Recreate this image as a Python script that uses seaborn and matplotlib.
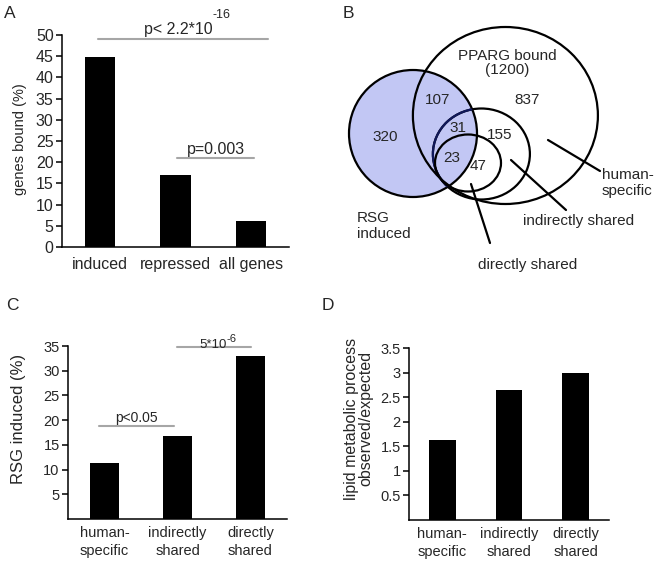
import matplotlib
matplotlib.use("Agg")
import matplotlib.pyplot as plt
import seaborn as sns
import numpy as np
from matplotlib.patches import Ellipse

sns.set_theme(style="white")
plt.rcParams['font.family'] = ['Liberation Sans', 'DejaVu Sans']

# ---- data ----
a_cats = ["induced", "repressed", "all genes"]
a_vals = [44.8, 17.0, 6.2]
a_ticks = [0, 5, 10, 15, 20, 25, 30, 35, 40, 45, 50]

c_cats = ["human-\nspecific", "indirectly\nshared", "directly\nshared"]
c_vals = [11.4, 16.7, 32.9]
c_ticks = [5, 10, 15, 20, 25, 30, 35]

d_cats = ["human-\nspecific", "indirectly\nshared", "directly\nshared"]
d_vals = [1.62, 2.65, 3.0]
d_ticks = [0.5, 1, 1.5, 2, 2.5, 3, 3.5]
d_ticklabels = ["0.5", "1", "1.5", "2", "2.5", "3", "3.5"]

venn_labels = ["320", "107", "31", "23", "837", "155", "47"]

W, H = 665, 565
fig = plt.figure(figsize=(W / 100, H / 100), dpi=100)


def px_axes(l, t, r, b):
    return fig.add_axes([l / W, 1 - b / H, (r - l) / W, (b - t) / H])


GREY = "#a6a6a6"


def bar_panel(ax, cats, vals, ylim, yticks, fs, yticklabels=None, pad=6):
    sns.barplot(x=cats, y=vals, color="black", width=0.4, saturation=1,
                ax=ax, linewidth=0)
    ax.set_xlim(-0.5, 2.5)
    ax.set_ylim(*ylim)
    ax.set_yticks(yticks)
    if yticklabels is not None:
        ax.set_yticklabels(yticklabels)
    ax.set_xticks([0, 1, 2])
    ax.set_xticklabels(cats, fontsize=fs, linespacing=1.35)
    ax.set_xticks([-0.5, 0.5, 1.5, 2.5], minor=True)
    ax.tick_params(axis="x", which="major", length=0, pad=pad)
    ax.tick_params(axis="x", which="minor", length=4, width=1.1,
                   direction="out", color="black")
    ax.tick_params(axis="y", length=4, width=1.1, direction="out",
                   color="black", labelsize=fs, pad=2, left=True)
    for s in ["top", "right"]:
        ax.spines[s].set_visible(False)
    for s in ["left", "bottom"]:
        ax.spines[s].set_color("black")
        ax.spines[s].set_linewidth(1.1)
    ax.set_facecolor("none")
    ax.grid(False)


# ---- Panel A ----
axA = px_axes(62, 35, 289, 247)
bar_panel(axA, a_cats, a_vals, (0, 50), a_ticks, 11.5, pad=7)
axA.set_ylabel("genes bound (%)", fontsize=10.5)
axA.yaxis.set_label_coords(-0.155, 0.51)
axA.plot([-0.02, 2.22], [49, 49], color=GREY, lw=1.5, clip_on=False)
axA.text(1.495, 51.2, "p< 2.2*10", ha="right", va="center", fontsize=11.5)
axA.text(1.495, 54.6, "-16", ha="left", va="center", fontsize=9)
axA.plot([1.02, 2.04], [21, 21], color=GREY, lw=1.5)
axA.text(1.53, 22.9, "p=0.003", ha="center", va="center", fontsize=11.5)

# ---- Panel C ----
axC = px_axes(68, 346, 287, 519)
bar_panel(axC, c_cats, c_vals, (0, 35), c_ticks, 10.5, pad=5)
axC.set_ylabel("RSG induced (%)", fontsize=12)
axC.yaxis.set_label_coords(-0.19, 0.58)
axC.plot([-0.075, 0.952], [18.9, 18.9], color=GREY, lw=1.5)
axC.text(0.44, 20.5, "p<0.05", ha="center", va="center", fontsize=10)
axC.plot([0.993, 2.007], [34.7, 34.7], color=GREY, lw=1.5, clip_on=False)
axC.text(1.678, 35.3, "5*10", ha="right", va="center", fontsize=9.5)
axC.text(1.678, 36.5, "-6", ha="left", va="center", fontsize=8)

# ---- Panel D ----
axD = px_axes(409, 348, 609, 520)
bar_panel(axD, d_cats, d_vals, (0, 3.5), d_ticks, 10.5, d_ticklabels, pad=5)
axD.set_ylabel("lipid metabolic process\nobserved/expected", fontsize=11.5,
               linespacing=0.9)
axD.yaxis.set_label_coords(-0.18, 0.59)

# ---- Panel B (Venn) ----
axB = px_axes(330, 0, 665, 290)
axB.set_xlim(330, 665)
axB.set_ylim(290, 0)
axB.axis("off")

BLUE = "#c2c7f4"
rsg = Ellipse((413, 133.5), 128, 127, facecolor=BLUE, edgecolor="black",
              lw=1.6, zorder=1)
axB.add_patch(rsg)
pparg = Ellipse((505.4, 115.5), 185, 177, facecolor="none", edgecolor="black",
                lw=1.6, zorder=2)
axB.add_patch(pparg)
ind = Ellipse((481.4, 154), 97, 91, facecolor="none", edgecolor="black",
              lw=1.6, zorder=2)
axB.add_patch(ind)
ind_in = Ellipse((481.4, 154), 97, 91, facecolor="none", edgecolor="#10185a",
                 lw=1.6, zorder=3)
axB.add_patch(ind_in)
ind_in.set_clip_path(rsg)
dirc = Ellipse((468, 163), 66, 57, facecolor="none", edgecolor="black",
               lw=1.6, zorder=3)
axB.add_patch(dirc)

VFS = 11
for txt, (x, y) in zip(venn_labels,
                       [(385, 137), (438, 100), (458, 128), (452, 158),
                        (527, 100), (500, 135), (478, 166)]):
    axB.text(x, y, txt, ha="center", va="center", fontsize=VFS, zorder=5)
axB.text(507, 63, "PPARG bound\n(1200)", ha="center", va="center",
         fontsize=VFS, linespacing=1.05, zorder=5)

axB.plot([548, 600], [140, 171], color="black", lw=1.6)
axB.plot([511, 566], [160, 210], color="black", lw=1.6)
axB.plot([471, 490], [184, 243], color="black", lw=1.6)

axB.text(357, 226, "RSG\ninduced", ha="left", va="center", fontsize=VFS, linespacing=1.1)
axB.text(602, 183, "human-\nspecific", ha="left", va="center", fontsize=VFS, linespacing=1.1)
axB.text(523, 221, "indirectly shared", ha="left", va="center", fontsize=VFS)
axB.text(478, 265, "directly shared", ha="left", va="center", fontsize=VFS)

# ---- panel letters ----
for letter, x, y in [("A", 4, 14), ("B", 343, 14), ("C", 6, 305), ("D", 322, 305)]:
    fig.text(x / W, 1 - y / H, letter, ha="left", va="center", fontsize=12.5)

fig.savefig("out.png", dpi=100)
